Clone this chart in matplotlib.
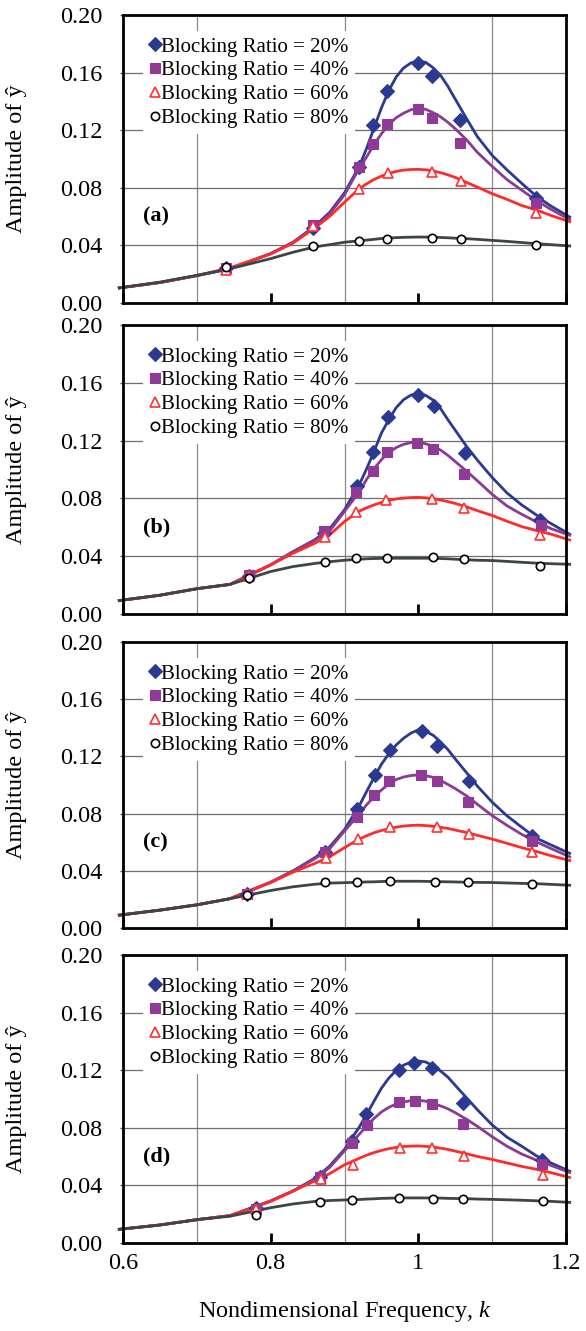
#Resonance amplitude curves for four cases (a)-(d)
#Markers are measured points, lines are the fitted curves

import matplotlib
matplotlib.use('Agg')
import matplotlib.pyplot as plt
from matplotlib.ticker import MultipleLocator, FixedLocator

plt.rcParams['font.family'] = ['Liberation Serif', 'DejaVu Serif']
plt.rcParams['mathtext.fontset'] = 'custom'
plt.rcParams['mathtext.rm'] = 'Liberation Serif'
plt.rcParams['mathtext.it'] = 'Liberation Serif:italic'

labels = ['Blocking Ratio = 20%', 'Blocking Ratio = 40%',
          'Blocking Ratio = 60%', 'Blocking Ratio = 80%']
panel_names = ['(a)', '(b)', '(c)', '(d)']

#measured points, panel (a)
k20_a = [0.74, 0.858, 0.92, 0.939, 0.958, 1.0, 1.019, 1.057, 1.159]
y20_a = [0.024, 0.0523, 0.0944, 0.1238, 0.1472, 0.1667, 0.1576, 0.1273, 0.0729]
k40_a = [0.74, 0.858, 0.92, 0.939, 0.958, 0.999, 1.018, 1.056, 1.159]
y40_a = [0.024, 0.0539, 0.0944, 0.1106, 0.1245, 0.1345, 0.1285, 0.1113, 0.0694]
k60_a = [0.74, 0.858, 0.92, 0.959, 1.019, 1.058, 1.159]
y60_a = [0.023, 0.0532, 0.0794, 0.0903, 0.091, 0.0847, 0.0625]
k80_a = [0.74, 0.857, 0.92, 0.958, 1.018, 1.058, 1.159]
y80_a = [0.025, 0.0396, 0.0428, 0.0447, 0.0449, 0.0442, 0.0405]

#measured points, panel (b)
k20_b = [0.77, 0.8725, 0.9176, 0.938, 0.959, 0.9995, 1.0207, 1.0626, 1.1653]
y20_b = [0.026, 0.056, 0.0888, 0.1121, 0.1362, 0.1514, 0.1438, 0.1114, 0.0652]
k40_b = [0.77, 0.8725, 0.9162, 0.938, 0.958, 0.9986, 1.0198, 1.0617, 1.1662]
y40_b = [0.027, 0.0571, 0.0844, 0.0987, 0.1119, 0.1184, 0.1142, 0.0969, 0.0617]
k60_b = [0.77, 0.8734, 0.9153, 0.9568, 1.0189, 1.0617, 1.1653]
y60_b = [0.026, 0.0532, 0.0703, 0.0791, 0.0798, 0.0733, 0.0548]
k80_b = [0.77, 0.8734, 0.9162, 0.958, 1.0198, 1.0617, 1.1653]
y80_b = [0.0247, 0.0358, 0.0386, 0.0386, 0.0393, 0.0379, 0.0333]

#measured points, panel (c)
k20_c = [0.768, 0.874, 0.9173, 0.941, 0.9618, 1.005, 1.0255, 1.0686, 1.1536]
y20_c = [0.024, 0.053, 0.083, 0.1067, 0.1248, 0.138, 0.1271, 0.1027, 0.0645]
k40_c = [0.768, 0.874, 0.9173, 0.94, 0.9605, 1.0036, 1.0255, 1.0673, 1.1536]
y40_c = [0.024, 0.0529, 0.0779, 0.0928, 0.1027, 0.1069, 0.1027, 0.0881, 0.061]
k60_c = [0.768, 0.875, 0.9186, 0.9618, 1.025, 1.0682, 1.1545]
y60_c = [0.024, 0.0487, 0.0622, 0.0703, 0.0703, 0.0656, 0.0529]
k80_c = [0.768, 0.874, 0.9173, 0.9614, 1.0232, 1.0673, 1.1545]
y80_c = [0.0232, 0.032, 0.032, 0.0327, 0.032, 0.032, 0.0308]

#measured points, panel (d)
k20_d = [0.78, 0.8667, 0.91, 0.9293, 0.9734, 0.9946, 1.0185, 1.06, 1.1671]
y20_d = [0.024, 0.0458, 0.071, 0.0894, 0.1204, 0.1252, 0.1215, 0.0975, 0.0579]
k40_d = [0.78, 0.8667, 0.9099, 0.9306, 0.9743, 0.9959, 1.018, 1.0608, 1.168]
y40_d = [0.0238, 0.046, 0.0694, 0.0822, 0.0979, 0.0984, 0.0963, 0.0829, 0.0551]
k60_d = [0.78, 0.8676, 0.9113, 0.9752, 1.018, 1.0622, 1.1694]
y60_d = [0.0238, 0.0442, 0.0539, 0.0662, 0.0662, 0.0602, 0.047]
k80_d = [0.78, 0.8667, 0.9104, 0.9743, 1.0194, 1.0608, 1.1694]
y80_d = [0.0192, 0.0285, 0.0296, 0.0313, 0.0303, 0.0303, 0.0289]

#fitted curves, all on the same k positions
fit_k = [0.595, 0.65, 0.7, 0.745, 0.8, 0.83, 0.86, 0.88, 0.9, 0.92, 0.93, 0.94, 0.95,
         0.96, 0.97, 0.98, 0.99, 1.0, 1.01, 1.02, 1.03, 1.04, 1.05, 1.065, 1.08,
         1.1, 1.12, 1.14, 1.16, 1.18, 1.205]

fit20_a = [0.0105, 0.0142, 0.019, 0.0238, 0.0343, 0.042, 0.0535, 0.063, 0.0765, 0.0948, 0.1075,
           0.1215, 0.1355, 0.1475, 0.157, 0.1632, 0.1667, 0.1681, 0.1671, 0.1634, 0.1582,
           0.1505, 0.1416, 0.1283, 0.1155, 0.1025, 0.0925, 0.0831, 0.0741, 0.0672, 0.0597]
fit40_a = [0.0105, 0.0142, 0.019, 0.0238, 0.0343, 0.042, 0.053, 0.062, 0.0752, 0.0935, 0.1015,
           0.110, 0.1175, 0.124, 0.1287, 0.1318, 0.1342, 0.135, 0.1345, 0.1322, 0.1293,
           0.1255, 0.121, 0.1135, 0.1046, 0.0949, 0.0857, 0.0784, 0.0711, 0.0649, 0.058]
fit60_a = [0.0105, 0.0142, 0.019, 0.0245, 0.034, 0.0415, 0.0522, 0.0602, 0.07, 0.0794, 0.0828,
           0.0858, 0.0881, 0.09, 0.0914, 0.0923, 0.0927, 0.0928, 0.0925, 0.0917, 0.0905,
           0.089, 0.0872, 0.0838, 0.0805, 0.0759, 0.072, 0.0677, 0.0646, 0.0607, 0.0565]
fit80_a = [0.0105, 0.0145, 0.0192, 0.0238, 0.0308, 0.0352, 0.039, 0.0405, 0.0422, 0.0432, 0.0437,
           0.0442, 0.0448, 0.0451, 0.0454, 0.0456, 0.0457, 0.0458, 0.0458, 0.0457, 0.0455,
           0.0453, 0.045, 0.0447, 0.0442, 0.0435, 0.0428, 0.042, 0.0412, 0.0405, 0.0396]

fit20_b = [0.0093, 0.013, 0.0175, 0.0205, 0.034, 0.043, 0.0515, 0.059, 0.0721, 0.0895, 0.1005,
           0.1125, 0.1252, 0.1345, 0.1428, 0.1483, 0.1515, 0.1526, 0.1513, 0.148, 0.1422,
           0.1345, 0.1272, 0.1162, 0.1065, 0.0945, 0.0838, 0.0755, 0.0685, 0.0625, 0.0552]
fit40_b = [0.0093, 0.013, 0.0175, 0.0205, 0.034, 0.043, 0.051, 0.0575, 0.071, 0.0845, 0.0932,
           0.1005, 0.1068, 0.1118, 0.1152, 0.1174, 0.1186, 0.1188, 0.1178, 0.1161, 0.1135,
           0.1098, 0.1055, 0.099, 0.0922, 0.0828, 0.0748, 0.069, 0.0638, 0.059, 0.0545]
fit60_b = [0.0093, 0.013, 0.0175, 0.0205, 0.034, 0.042, 0.049, 0.0548, 0.064, 0.0712, 0.0735,
           0.0755, 0.0772, 0.0786, 0.0796, 0.0802, 0.0806, 0.0807, 0.0804, 0.0798, 0.0789,
           0.0778, 0.0765, 0.0742, 0.0715, 0.0682, 0.0642, 0.0605, 0.0578, 0.0552, 0.0512]
fit80_b = [0.0093, 0.013, 0.0175, 0.0205, 0.0294, 0.0328, 0.035, 0.0362, 0.0372, 0.0379, 0.0382,
           0.0384, 0.0385, 0.0386, 0.0386, 0.0386, 0.0386, 0.0386, 0.0386, 0.0385, 0.0384,
           0.0382, 0.0379, 0.0375, 0.0372, 0.037, 0.0364, 0.0358, 0.0352, 0.0348, 0.0344]

fit20_c = [0.009, 0.0125, 0.0162, 0.0205, 0.032, 0.0398, 0.0492, 0.0568, 0.0688, 0.0855, 0.0955,
           0.1052, 0.1145, 0.1218, 0.128, 0.1327, 0.1363, 0.1386, 0.1375, 0.1348, 0.1302,
           0.1248, 0.1182, 0.1088, 0.0992, 0.088, 0.0785, 0.0705, 0.0628, 0.058, 0.0522]
fit40_c = [0.009, 0.0125, 0.0162, 0.0205, 0.032, 0.0398, 0.0485, 0.0555, 0.0678, 0.0798, 0.0862,
           0.0918, 0.0965, 0.1008, 0.1038, 0.1056, 0.1066, 0.1071, 0.1066, 0.1053, 0.1033,
           0.1004, 0.0975, 0.0925, 0.0865, 0.0786, 0.0718, 0.0655, 0.0602, 0.0555, 0.0498]
fit60_c = [0.009, 0.0125, 0.0162, 0.0205, 0.0318, 0.039, 0.0452, 0.0498, 0.0562, 0.0622, 0.0645,
           0.0666, 0.0682, 0.0694, 0.0705, 0.0713, 0.0717, 0.0719, 0.0716, 0.0711, 0.0704,
           0.0696, 0.0685, 0.0668, 0.0648, 0.0622, 0.0592, 0.0562, 0.0535, 0.0505, 0.0472]
fit80_c = [0.009, 0.0125, 0.0162, 0.0205, 0.0262, 0.0288, 0.0306, 0.0314, 0.0317, 0.032, 0.0322,
           0.0323, 0.0325, 0.0327, 0.0327, 0.0327, 0.0327, 0.0327, 0.0326, 0.0325, 0.0324,
           0.0323, 0.0322, 0.032, 0.0319, 0.0318, 0.0315, 0.0312, 0.031, 0.0305, 0.0299]

fit20_d = [0.0095, 0.0125, 0.0162, 0.019, 0.0292, 0.036, 0.0448, 0.0535, 0.065, 0.0805, 0.0893,
           0.0985, 0.1075, 0.1145, 0.1198, 0.1235, 0.1256, 0.1264, 0.1257, 0.1231, 0.1195,
           0.1152, 0.1095, 0.101, 0.0925, 0.082, 0.0735, 0.0672, 0.0605, 0.0555, 0.0498]
fit40_d = [0.0095, 0.0125, 0.0162, 0.019, 0.0292, 0.036, 0.0442, 0.0525, 0.064, 0.0755, 0.0812,
           0.0865, 0.091, 0.0942, 0.0965, 0.098, 0.0988, 0.0991, 0.0985, 0.097, 0.0952,
           0.0932, 0.0905, 0.086, 0.081, 0.0738, 0.0672, 0.0618, 0.0575, 0.0538, 0.049]
fit60_d = [0.0095, 0.0125, 0.0162, 0.019, 0.0289, 0.036, 0.0432, 0.0482, 0.0543, 0.0588, 0.061,
           0.0628, 0.0643, 0.0655, 0.0664, 0.067, 0.0673, 0.0674, 0.0671, 0.0666, 0.0659,
           0.065, 0.0638, 0.062, 0.0601, 0.058, 0.0556, 0.0532, 0.0512, 0.0488, 0.0455]
fit80_d = [0.0095, 0.0125, 0.0162, 0.0186, 0.0245, 0.0271, 0.0289, 0.0295, 0.0299, 0.0302, 0.0305,
           0.0307, 0.031, 0.0311, 0.0313, 0.0313, 0.0313, 0.0313, 0.0313, 0.0313, 0.0312,
           0.031, 0.0309, 0.0308, 0.0305, 0.0303, 0.03, 0.0297, 0.0293, 0.0289, 0.0282]

#group per panel so we can loop
points = [
    [(k20_a, y20_a), (k40_a, y40_a), (k60_a, y60_a), (k80_a, y80_a)],
    [(k20_b, y20_b), (k40_b, y40_b), (k60_b, y60_b), (k80_b, y80_b)],
    [(k20_c, y20_c), (k40_c, y40_c), (k60_c, y60_c), (k80_c, y80_c)],
    [(k20_d, y20_d), (k40_d, y40_d), (k60_d, y60_d), (k80_d, y80_d)],
]
fits = [
    [fit20_a, fit40_a, fit60_a, fit80_a],
    [fit20_b, fit40_b, fit60_b, fit80_b],
    [fit20_c, fit40_c, fit60_c, fit80_c],
    [fit20_d, fit40_d, fit60_d, fit80_d],
]

line_colors = ['#2b3990', '#8a3c92', '#ff2b2b', '#3c4644']
marker_style = [
    dict(marker='D', ms=7, mfc='#2b3990', mec='#2b3990', mew=0.8),
    dict(marker='s', ms=6.5, mfc='#8e3a96', mec='#8e3a96', mew=0.8),
    dict(marker='^', ms=7, mfc='white', mec='#ff3030', mew=1.2),
    dict(marker='o', ms=6, mfc='white', mec='black', mew=1.2),
]

fig = plt.figure(figsize=(5.86, 13.31), dpi=100)

#axes boxes in pixels (top, bottom) measured from the top of the image
boxes = [(15, 303), (325, 614), (642, 928), (955, 1243)]
W, H = 586.0, 1331.0
left_px, right_px = 123.0, 566.0

for i in range(4):
    top, bot = boxes[i]
    ax = fig.add_axes([left_px / W, 1 - bot / H, (right_px - left_px) / W, (bot - top) / H])

    for j in range(4):
        ax.plot(fit_k, fits[i][j], color=line_colors[j], lw=2.0, zorder=2,
                solid_joinstyle='round', clip_on=False)
    for j in range(4):
        k, y = points[i][j]
        ax.plot(k, y, linestyle='none', label=labels[j], zorder=3, **marker_style[j])

    ax.set_xlim(0.6, 1.2)
    ax.set_ylim(0, 0.2)
    ax.xaxis.set_major_locator(FixedLocator([0.6, 0.8, 1.0, 1.2]))
    ax.xaxis.set_minor_locator(MultipleLocator(0.1))
    ax.set_yticks([0.0, 0.04, 0.08, 0.12, 0.16, 0.2])
    ax.set_yticklabels(['0.00', '0.04', '0.08', '0.12', '0.16', '0.20'])

    ax.set_axisbelow(True)
    ax.grid(True, which='minor', axis='x', color='#8a8a8a', lw=0.9)
    ax.grid(True, which='major', axis='y', color='#6e6e6e', lw=0.9)

    ax.tick_params(axis='x', which='major', direction='in', length=7, width=2,
                   labelsize=17.5, pad=7, top=False)
    ax.tick_params(axis='x', which='minor', length=0)
    ax.tick_params(axis='y', direction='out', length=2, width=1, color='#555555',
                   labelsize=17.5, pad=13)
    for s in ax.spines.values():
        s.set_linewidth(2.0)
        s.set_zorder(4)

    if i < 3:
        ax.set_xticklabels([])
    else:
        ax.set_xticklabels(['0.6', '0.8', '1', '1.2'])
        ax.set_xlabel('Nondimensional Frequency, $\\mathit{k}$', fontsize=17.5, labelpad=18)

    ax.set_ylabel('Amplitude of ŷ', fontsize=17.5, va='center')
    ax.yaxis.set_label_coords(-0.24, 0.5)

    leg = ax.legend(loc='upper left', bbox_to_anchor=(0.046, 0.945), fontsize=15,
                    frameon=True, facecolor='white', edgecolor='none', framealpha=1,
                    fancybox=False, borderpad=0.3, handlelength=0.5, handletextpad=0.05,
                    labelspacing=0.2, borderaxespad=0, numpoints=1)
    leg.set_zorder(3.5)

    ax.text(0.045, 0.30, panel_names[i], transform=ax.transAxes, fontsize=16,
            fontweight='bold', ha='left', va='center', zorder=5)

fig.savefig('out.png', dpi=100)
